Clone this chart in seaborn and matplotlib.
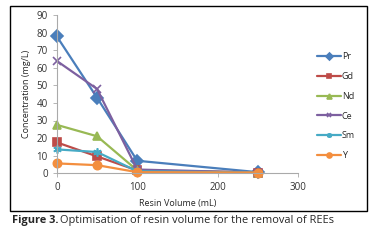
import seaborn as sns
import matplotlib
import matplotlib.pyplot as plt
import matplotlib.patches as mpatches
import pandas as pd

matplotlib.use('Agg')

# data
resin_volume = [0, 50, 100, 250]
series_names = ["Pr", "Gd", "Nd", "Ce", "Sm", "Y"]
pr = [78, 43, 7, 0.5]
gd = [17.5, 9.5, 1.5, 0.3]
nd = [27.5, 21, 1.5, 0.3]
ce = [64, 48, 2, 0.3]
sm = [13.5, 12, 1, 0.3]
y_vals = [5.5, 4.5, 0.5, 0.3]

colors = ["#4A7EBB", "#BE4B48", "#98B954", "#7D60A0", "#46AAC5", "#F38E3E"]
markers = ["D", "s", "^", "x", (6, 2, 0), "o"]

values = [pr, gd, nd, ce, sm, y_vals]

sns.set_style("white")
plt.rcParams['font.family'] = ['Open Sans', 'DejaVu Sans']

fig = plt.figure(figsize=(3.74, 2.41), dpi=100)
ax = fig.add_axes([0.152, 0.282, 0.645, 0.654])

# outer box round the chart
fig.patches.append(mpatches.Rectangle((10 / 374, 1 - 211 / 241), 357 / 374, 205 / 241,
                                      transform=fig.transFigure, fill=False,
                                      edgecolor="black", linewidth=1.0))

# one lineplot per element (seaborn refuses to mix filled and line markers)
for name, vals, c, m in zip(series_names, values, colors, markers):
    sub = pd.DataFrame({"Resin Volume (mL)": resin_volume, "Concentration (mg/L)": vals})
    sns.lineplot(data=sub, x="Resin Volume (mL)", y="Concentration (mg/L)", color=c,
                 marker=m, markersize=6, markeredgewidth=1.2, markeredgecolor=c,
                 linewidth=1.6, label=name, ax=ax)

ax.set_xlim(0, 300)
ax.set_ylim(0, 90)
ax.set_xticks([0, 100, 200, 300])
ax.set_yticks(range(0, 91, 10))
ax.set_xlabel("Resin Volume (mL)", fontsize=6.5, labelpad=4)
ax.set_ylabel("Concentration (mg/L)", fontsize=6.5, labelpad=4)
ax.tick_params(axis="both", labelsize=7, colors="#333333", length=3, width=0.6,
               direction="out", left=True, bottom=True, color="#AAAAAA")
for side in ["top", "right"]:
    ax.spines[side].set_visible(False)
for side in ["left", "bottom"]:
    ax.spines[side].set_color("#AAAAAA")
    ax.spines[side].set_linewidth(0.8)
for ln in ax.get_lines():
    ln.set_clip_on(False)

ax.legend(loc="upper left", bbox_to_anchor=(1.065, 0.79),
          frameon=False, fontsize=6.5, handlelength=2.6, handletextpad=0.1,
          labelspacing=1.2, borderaxespad=0, markerscale=0.6)

# caption: bold part then the rest right after it
cap_y = 1 - 221 / 241
bold = fig.text(12 / 374, cap_y, "Figure 3.", fontsize=7.9, fontweight="bold",
                va="center", ha="left")
fig.canvas.draw()
bb = bold.get_window_extent().transformed(fig.transFigure.inverted())
fig.text(bb.x1 + 1.5 / 374, cap_y, "Optimisation of resin volume for the removal of REEs",
         fontsize=7.9, va="center", ha="left")

plt.savefig("out.png", dpi=100)
